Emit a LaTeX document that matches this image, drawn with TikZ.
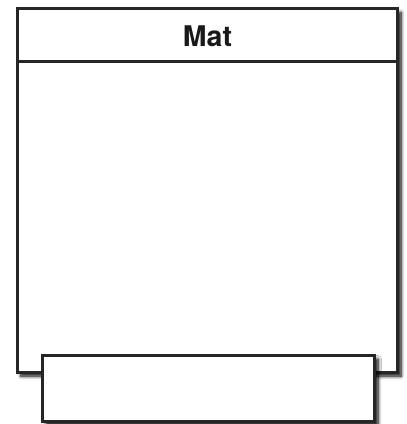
\documentclass[tikz,border=0pt]{standalone}
\usepackage{fontspec}
\setmainfont{TeX Gyre Heros}
\usetikzlibrary{shadows.blur}
\begin{document}
\begin{tikzpicture}[x=1pt,y=-1pt,
  boxline/.style={draw=black!85,line width=3pt},
  shad/.style={blur shadow={shadow xshift=4pt,shadow yshift=-4pt,shadow blur steps=8,shadow blur radius=3.5pt,shadow opacity=100}}]
\useasboundingbox (0,0) rectangle (407,424);
\draw[boxline,fill=white,shad] (17,8.5) rectangle (397,372);
\coordinate (hl) at (17,61.5);
\coordinate (hr) at (397,61.5);
\draw[boxline] (hl) -- (hr);
\node[font=\bfseries\fontsize{28.5}{32}\selectfont,text=black!90] (title) at (207.5,36) {Mat};
\draw[boxline,fill=white,shad] (42,355) rectangle (374,421.5);
\end{tikzpicture}
\end{document}
